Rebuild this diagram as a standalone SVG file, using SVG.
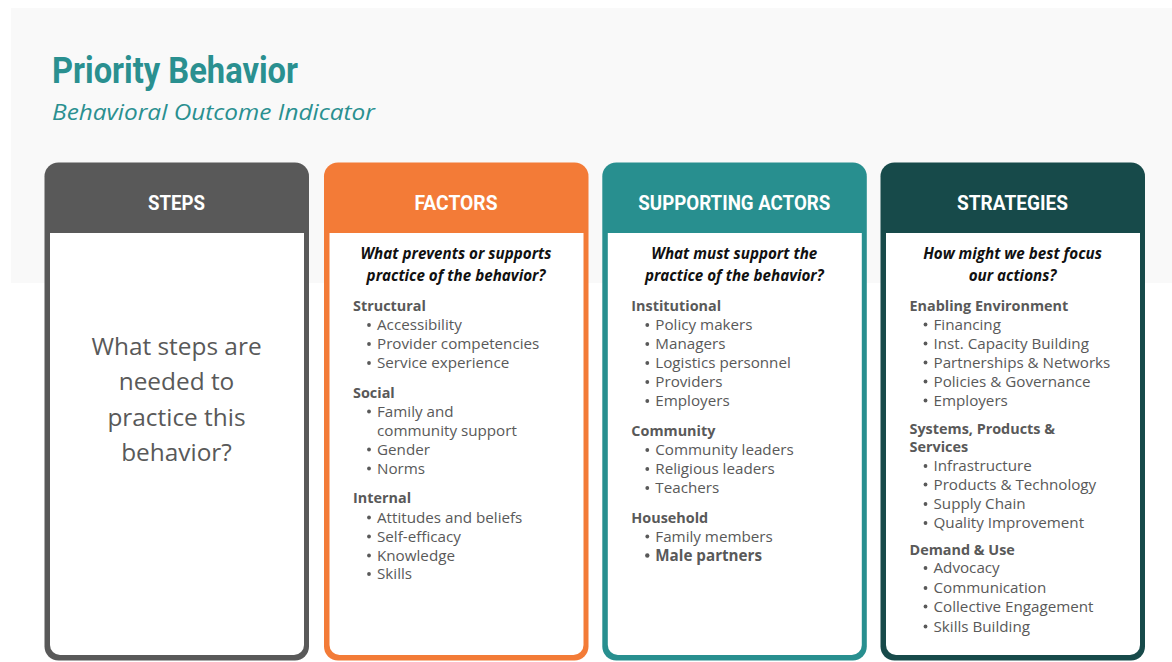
<svg xmlns="http://www.w3.org/2000/svg" width="1172" height="662" viewBox="0 0 1172 662">
  <style>
    .title { font-family: Roboto, "Liberation Sans", sans-serif; font-weight: 700; font-size: 37px; fill: #2A9090; }
    .subtitle { font-family: "Open Sans", "Liberation Sans", sans-serif; font-style: italic; font-size: 22px; fill: #2A9090; }
    .head { font-family: Roboto, "Liberation Sans", sans-serif; font-weight: 700; font-size: 20px; fill: #FFFFFF; text-anchor: middle; }
    .ask { font-family: "Open Sans", "Liberation Sans", sans-serif; font-weight: 700; font-style: italic; font-size: 15.2px; fill: #111111; text-anchor: middle; }
    .grp { font-family: "Open Sans", "Liberation Sans", sans-serif; font-weight: 700; font-size: 14.4px; fill: #595959; }
    .item { font-family: "Open Sans", "Liberation Sans", sans-serif; font-size: 15.2px; fill: #595959; }
    .b { font-weight: 700; }
    .dot { fill: #595959; }
    .big { font-family: "Open Sans", "Liberation Sans", sans-serif; font-size: 24.4px; fill: #595959; text-anchor: middle; }
    .inner { fill: #FFFFFF; }
  </style>
  <defs>
    <!-- white body of a card: square top, rounded bottom corners -->
    <path id="body" d="M5.5 70.5 H259.5 V482.5 A10 10 0 0 1 249.5 492.5 H15.5 A10 10 0 0 1 5.5 482.5 Z"/>
    <!-- list bullet -->
    <circle id="dot" r="1.9"/>
  </defs>

  <!-- page band behind the title area -->
  <rect x="11" y="8" width="1161" height="275" fill="#F9F9F9"/>

  <g id="title-block">
    <text class="title" x="52" y="83" textLength="246" lengthAdjust="spacingAndGlyphs">Priority Behavior</text>
    <text class="subtitle" x="52" y="120" textLength="323" lengthAdjust="spacingAndGlyphs">Behavioral Outcome Indicator</text>
  </g>

  <!-- STEPS card -->
  <g id="steps" transform="translate(44.5,162.5)">
    <rect width="264.5" height="498" rx="14" fill="#595959"/>
    <use href="#body" class="inner"/>
    <text class="head" x="132" y="47" textLength="57" lengthAdjust="spacingAndGlyphs">STEPS</text>
    <text class="big" x="132" y="192">What steps are</text>
    <text class="big" x="132" y="227.5">needed to</text>
    <text class="big" x="132" y="263">practice this</text>
    <text class="big" x="132" y="298.5">behavior?</text>
  </g>

  <!-- FACTORS card -->
  <g id="factors" transform="translate(324,162.5)">
    <rect width="264.5" height="498" rx="14" fill="#F37B37"/>
    <use href="#body" class="inner"/>
    <text class="head" x="132" y="47" textLength="83" lengthAdjust="spacingAndGlyphs">FACTORS</text>
    <text class="ask" x="132" y="96.5">What prevents or supports</text>
    <text class="ask" x="132" y="118.5">practice of the behavior?</text>
    <text class="grp" x="29" y="148.5">Structural</text>
    <g class="dot">
      <use href="#dot" x="45" y="162.5"/><use href="#dot" x="45" y="181.5"/><use href="#dot" x="45" y="200.5"/>
      <use href="#dot" x="45" y="249"/><use href="#dot" x="45" y="287"/><use href="#dot" x="45" y="306"/>
      <use href="#dot" x="45" y="355"/><use href="#dot" x="45" y="374"/><use href="#dot" x="45" y="393"/><use href="#dot" x="45" y="411.5"/>
    </g>
    <text class="item" x="53" y="167.5">Accessibility</text>
    <text class="item" x="53" y="186.5">Provider competencies</text>
    <text class="item" x="53" y="205.5">Service experience</text>
    <text class="grp" x="29" y="235">Social</text>
    <text class="item" x="53" y="254">Family and</text>
    <text class="item" x="53" y="273">community support</text>
    <text class="item" x="53" y="292">Gender</text>
    <text class="item" x="53" y="311">Norms</text>
    <text class="grp" x="29" y="340.5">Internal</text>
    <text class="item" x="53" y="360">Attitudes and beliefs</text>
    <text class="item" x="53" y="379">Self-efficacy</text>
    <text class="item" x="53" y="398">Knowledge</text>
    <text class="item" x="53" y="416.5">Skills</text>
  </g>

  <!-- SUPPORTING ACTORS card -->
  <g id="supporting-actors" transform="translate(602.3,162.5)">
    <rect width="264.5" height="498" rx="14" fill="#288F8F"/>
    <use href="#body" class="inner"/>
    <text class="head" x="132" y="47" textLength="192" lengthAdjust="spacingAndGlyphs">SUPPORTING ACTORS</text>
    <text class="ask" x="132" y="96.5">What must support the</text>
    <text class="ask" x="132" y="118.5">practice of the behavior?</text>
    <text class="grp" x="29" y="148.5">Institutional</text>
    <g class="dot">
      <use href="#dot" x="45" y="162.5"/><use href="#dot" x="45" y="181.5"/><use href="#dot" x="45" y="200.5"/>
      <use href="#dot" x="45" y="219.5"/><use href="#dot" x="45" y="238.5"/>
      <use href="#dot" x="45" y="287.5"/><use href="#dot" x="45" y="306.5"/><use href="#dot" x="45" y="325.5"/>
      <use href="#dot" x="45" y="374"/>
      <circle cx="45" cy="393" r="2.2"/>
    </g>
    <text class="item" x="53" y="167.5">Policy makers</text>
    <text class="item" x="53" y="186.5">Managers</text>
    <text class="item" x="53" y="205.5">Logistics personnel</text>
    <text class="item" x="53" y="224.5">Providers</text>
    <text class="item" x="53" y="243.5">Employers</text>
    <text class="grp" x="29" y="273.5">Community</text>
    <text class="item" x="53" y="292.5">Community leaders</text>
    <text class="item" x="53" y="311.5">Religious leaders</text>
    <text class="item" x="53" y="330.5">Teachers</text>
    <text class="grp" x="29" y="360">Household</text>
    <text class="item" x="53" y="379">Family members</text>
    <text class="item b" x="53" y="398">Male partners</text>
  </g>

  <!-- STRATEGIES card -->
  <g id="strategies" transform="translate(880.5,162.5)">
    <rect width="264.5" height="498" rx="14" fill="#174A4A"/>
    <use href="#body" class="inner"/>
    <text class="head" x="132" y="47" textLength="111" lengthAdjust="spacingAndGlyphs">STRATEGIES</text>
    <text class="ask" x="132" y="96.5">How might we best focus</text>
    <text class="ask" x="132" y="118.5">our actions?</text>
    <text class="grp" x="29" y="148">Enabling Environment</text>
    <g class="dot">
      <use href="#dot" x="45" y="162"/><use href="#dot" x="45" y="181"/><use href="#dot" x="45" y="200"/>
      <use href="#dot" x="45" y="219"/><use href="#dot" x="45" y="238"/>
      <use href="#dot" x="45" y="303.5"/><use href="#dot" x="45" y="322"/><use href="#dot" x="45" y="341.5"/><use href="#dot" x="45" y="360.5"/>
      <use href="#dot" x="45" y="405.5"/><use href="#dot" x="45" y="425.5"/><use href="#dot" x="45" y="444"/><use href="#dot" x="45" y="464"/>
    </g>
    <text class="item" x="53" y="167">Financing</text>
    <text class="item" x="53" y="186">Inst. Capacity Building</text>
    <text class="item" x="53" y="205">Partnerships &amp; Networks</text>
    <text class="item" x="53" y="224">Policies &amp; Governance</text>
    <text class="item" x="53" y="243">Employers</text>
    <text class="grp" x="29" y="271">Systems, Products &amp;</text>
    <text class="grp" x="29" y="289">Services</text>
    <text class="item" x="53" y="308.5">Infrastructure</text>
    <text class="item" x="53" y="327">Products &amp; Technology</text>
    <text class="item" x="53" y="346.5">Supply Chain</text>
    <text class="item" x="53" y="365.5">Quality Improvement</text>
    <text class="grp" x="29" y="392.5">Demand &amp; Use</text>
    <text class="item" x="53" y="410.5">Advocacy</text>
    <text class="item" x="53" y="430.5">Communication</text>
    <text class="item" x="53" y="449">Collective Engagement</text>
    <text class="item" x="53" y="469">Skills Building</text>
  </g>

  <!-- the cards stand side by side; there are no connecting lines -->
  <g id="connectors"/>
</svg>
